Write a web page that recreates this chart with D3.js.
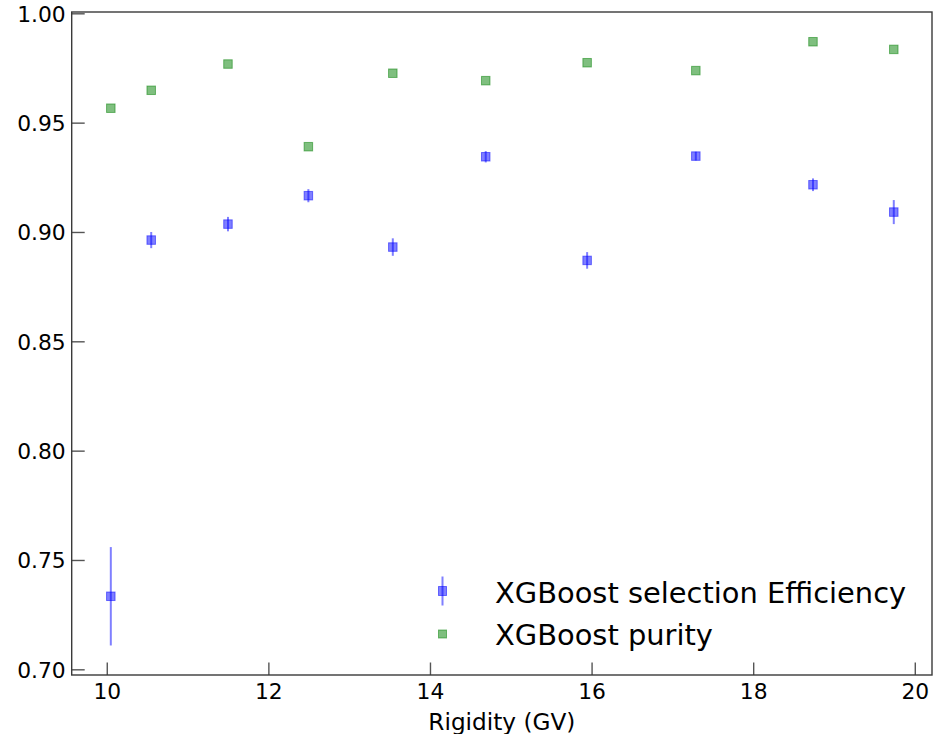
<!DOCTYPE html>
<html>
<head>
<meta charset="utf-8">
<script src="https://cdn.jsdelivr.net/npm/d3@7"></script>
<style>
  html, body { margin: 0; padding: 0; background: #fff; }
  svg { display: block; font-family: "DejaVu Sans", sans-serif; }
</style>
</head>
<body>
<svg id="chart" width="934" height="734"></svg>
<script>
// ---- data ----
const rigidity   = [10.05, 10.55, 11.50, 12.495, 13.54, 14.69, 15.945, 17.29, 18.74, 19.74];
const efficiency = [0.7334, 0.8963, 0.9036, 0.9166, 0.8931, 0.9344, 0.8870, 0.9347, 0.9216, 0.9091];
const effError   = [0.0225, 0.0037, 0.0033, 0.0030, 0.0040, 0.0026, 0.0038, 0.0020, 0.0029, 0.0055];
const purity     = [0.9566, 0.9648, 0.9768, 0.9390, 0.9726, 0.9692, 0.9774, 0.9738, 0.9870, 0.9835];
const xTicks = [10, 12, 14, 16, 18, 20];
const yTicks = [0.70, 0.75, 0.80, 0.85, 0.90, 0.95, 1.00];
const legendLabels = ["XGBoost selection Efficiency", "XGBoost purity"];
const xLabel = "Rigidity (GV)";

// ---- layout ----
const svg = d3.select("#chart");
const L = 71.7, R = 932, T = 12, B = 675;
const x = d3.scaleLinear().domain([9.566, 20.213]).range([L, R]);
const y = d3.scaleLinear().domain([0.6974, 1.0006]).range([B, T]);

const blueFill = "rgba(0,0,255,0.5)";
const greenFill = "rgba(0,128,0,0.5)";
const spineColor = "#3a3a3a";
const tickColor = "#555";
const ms = 8.5;

// axes (ticks inward)
const xAxis = d3.axisBottom(x).tickValues(xTicks).tickFormat(d3.format("d"))
  .tickSizeInner(-12.5).tickSizeOuter(0).tickPadding(18);
const yAxis = d3.axisLeft(y).tickValues(yTicks).tickFormat(d3.format(".2f"))
  .tickSizeInner(-13).tickSizeOuter(0).tickPadding(20);

const gx = svg.append("g").attr("transform", `translate(0,${B})`).call(xAxis);
const gy = svg.append("g").attr("transform", `translate(${L},0)`).call(yAxis);
[gx, gy].forEach(g => {
  g.select(".domain").remove();
  g.selectAll(".tick line").attr("stroke", tickColor).attr("stroke-width", 1.4);
  g.selectAll(".tick text").attr("fill", "#000")
    .style("font-family", '"DejaVu Sans", sans-serif').style("font-size", "21.8px");
});
gy.selectAll(".tick text").attr("dy", "0.36em").attr("x", -6);
gx.selectAll(".tick text").attr("dy", "0.71em").attr("y", 9);

// frame
svg.append("rect").attr("x", L).attr("y", T).attr("width", R - L).attr("height", B - T)
  .attr("fill", "none").attr("stroke", spineColor).attr("stroke-width", 1.4);

// x label
svg.append("text").attr("x", (L + R) / 2).attr("y", 730).attr("text-anchor", "middle")
  .style("font-size", "23.2px").attr("fill", "#000").text(xLabel);

// efficiency error bars + markers
const effData = rigidity.map((r, i) => ({ r, v: efficiency[i], e: effError[i] }));
const plot = svg.append("g");
plot.selectAll("line.err").data(effData).join("line").attr("class", "err")
  .attr("x1", d => x(d.r)).attr("x2", d => x(d.r))
  .attr("y1", d => y(d.v - d.e)).attr("y2", d => y(d.v + d.e))
  .attr("stroke", blueFill).attr("stroke-width", 2);
plot.selectAll("rect.eff").data(effData).join("rect").attr("class", "eff")
  .attr("x", d => x(d.r) - ms / 2).attr("y", d => y(d.v) - ms / 2)
  .attr("width", ms).attr("height", ms)
  .attr("fill", blueFill).attr("stroke", blueFill).attr("stroke-width", 1);

// purity markers
const purData = rigidity.map((r, i) => ({ r, v: purity[i] }));
plot.selectAll("rect.pur").data(purData).join("rect").attr("class", "pur")
  .attr("x", d => x(d.r) - ms / 2).attr("y", d => y(d.v) - ms / 2)
  .attr("width", ms).attr("height", ms)
  .attr("fill", greenFill).attr("stroke", greenFill).attr("stroke-width", 1);

// legend
const lg = svg.append("g");
const lx = 442.5, ly1 = 591, ly2 = 634;
lg.append("line").attr("x1", lx).attr("x2", lx).attr("y1", ly1 - 14.5).attr("y2", ly1 + 14.5)
  .attr("stroke", blueFill).attr("stroke-width", 2);
lg.append("rect").attr("x", lx - 4).attr("y", ly1 - 4.5).attr("width", 8).attr("height", 9)
  .attr("fill", blueFill).attr("stroke", blueFill).attr("stroke-width", 1);
lg.append("rect").attr("x", lx - 4).attr("y", ly2 - 4).attr("width", 8).attr("height", 8)
  .attr("fill", greenFill).attr("stroke", greenFill).attr("stroke-width", 1);
lg.selectAll("text").data(legendLabels).join("text")
  .attr("x", 495).attr("y", (d, i) => i === 0 ? 602.5 : 644.5)
  .style("font-size", "28.9px").attr("fill", "#000").text(d => d);
</script>
</body>
</html>
